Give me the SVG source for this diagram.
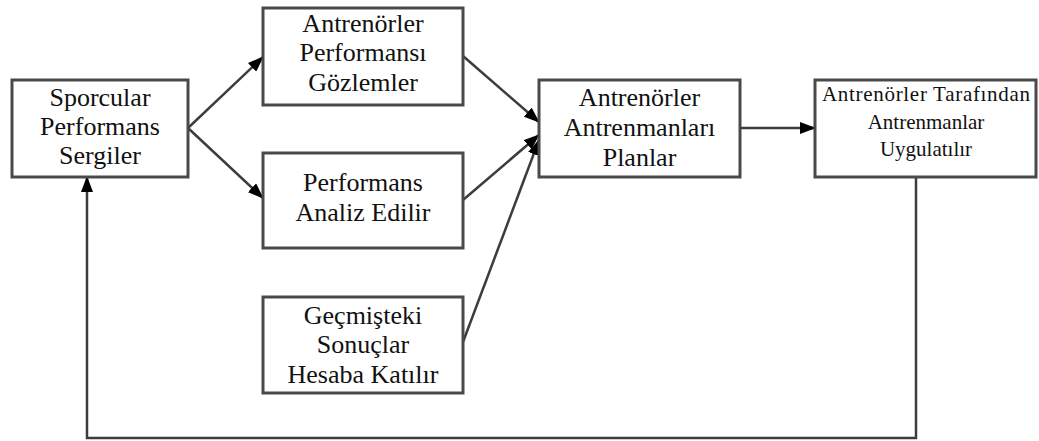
<svg xmlns="http://www.w3.org/2000/svg" width="1039" height="441" viewBox="0 0 1039 441">
  <style>
    .box { fill: #ffffff; stroke: #4a4a4a; stroke-width: 3; }
    .lbl { font-family: "Liberation Serif", "Times New Roman", serif; font-size: 26px; fill: #111111; text-anchor: middle; }
    .sm { font-size: 21px; }
    .edge { fill: none; stroke: #3c3c3c; stroke-width: 2.5; marker-end: url(#head); }
  </style>
  <defs>
    <marker id="head" markerUnits="userSpaceOnUse" markerWidth="16" markerHeight="12" refX="15" refY="6" orient="auto">
      <path d="M0,0 L16,6 L0,12 Z" fill="#000000"/>
    </marker>
  </defs>
  <rect width="1039" height="441" fill="#ffffff"/>

  <g id="connectors">
    <line class="edge" x1="188" y1="128" x2="263" y2="57"/>
    <line class="edge" x1="188" y1="128" x2="263" y2="198"/>
    <line class="edge" x1="463" y1="56" x2="539" y2="122"/>
    <line class="edge" x1="463" y1="200" x2="539" y2="135"/>
    <line class="edge" x1="463" y1="342" x2="539" y2="140"/>
    <line class="edge" x1="740" y1="128" x2="815" y2="128"/>
    <polyline class="edge" points="916,177 916,438 87,438 87,177"/>
  </g>

  <g id="sporcular">
    <rect class="box" x="12" y="80" width="176" height="97"/>
    <text class="lbl" x="100" y="106">Sporcular</text>
    <text class="lbl" x="100" y="135">Performans</text>
    <text class="lbl" x="100" y="164">Sergiler</text>
  </g>

  <g id="gozlem">
    <rect class="box" x="263" y="8" width="200" height="97"/>
    <text class="lbl" x="363" y="32">Antrenörler</text>
    <text class="lbl" x="363" y="61">Performansı</text>
    <text class="lbl" x="363" y="91">Gözlemler</text>
  </g>

  <g id="analiz">
    <rect class="box" x="263" y="153" width="200" height="95"/>
    <text class="lbl" x="363" y="191">Performans</text>
    <text class="lbl" x="363" y="221">Analiz Edilir</text>
  </g>

  <g id="gecmis">
    <rect class="box" x="263" y="297" width="200" height="96"/>
    <text class="lbl" x="363" y="324">Geçmişteki</text>
    <text class="lbl" x="363" y="353">Sonuçlar</text>
    <text class="lbl" x="363" y="383">Hesaba Katılır</text>
  </g>

  <g id="planlar">
    <rect class="box" x="539" y="80" width="201" height="97"/>
    <text class="lbl" x="639.5" y="106">Antrenörler</text>
    <text class="lbl" x="639.5" y="136">Antrenmanları</text>
    <text class="lbl" x="639.5" y="166">Planlar</text>
  </g>

  <g id="uygulama">
    <rect class="box" x="815" y="80" width="221" height="97"/>
    <text class="lbl sm" x="926" y="101" textLength="208" lengthAdjust="spacing">Antrenörler Tarafından</text>
    <text class="lbl sm" x="926" y="129">Antrenmanlar</text>
    <text class="lbl sm" x="926" y="156">Uygulatılır</text>
  </g>
</svg>
